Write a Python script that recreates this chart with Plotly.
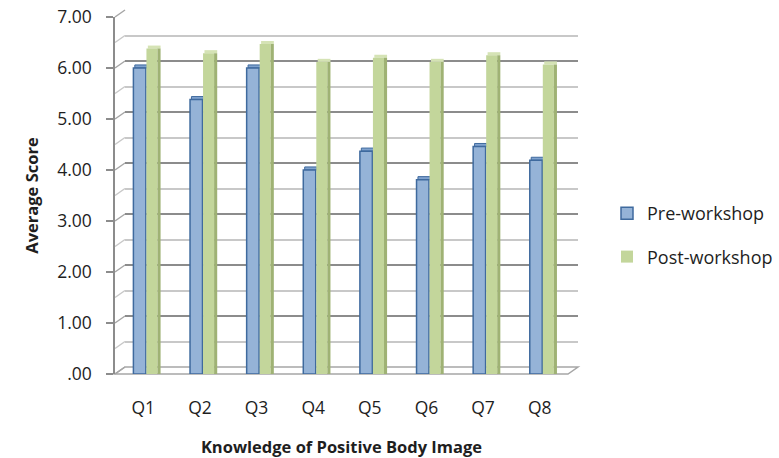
import plotly.graph_objects as go

# Survey data: average score per question, before and after the workshop
questions = ["Q1", "Q2", "Q3", "Q4", "Q5", "Q6", "Q7", "Q8"]
pre_workshop = [6.00, 5.38, 6.00, 4.00, 4.37, 3.81, 4.46, 4.19]
post_workshop = [6.38, 6.29, 6.47, 6.12, 6.20, 6.12, 6.25, 6.07]
y_tick_values = [0, 1, 2, 3, 4, 5, 6, 7]
y_tick_labels = [".00", "1.00", "2.00", "3.00", "4.00", "5.00", "6.00", "7.00"]

W, H = 779, 458
FONT = "Open Sans"
TEXT = "#1E1E1E"

# pixel layout of the pseudo-3D box
FRONT_L, FRONT_R = 115, 568      # front edge of the floor
FRONT_TOP, FRONT_BOT = 17, 374   # front value axis (7 .. 0)
DX, DY = 10, 7                   # depth offset of the back wall
BACK_L, BACK_R = FRONT_L + DX, FRONT_R + DX
BACK_TOP, BACK_BOT = FRONT_TOP - DY, FRONT_BOT - DY
CAP = 0.06                       # thickness of the column top caps (value units)


def fx(px):
    return px / W


def fy(py):
    return 1 - py / H


BLUE = "#95B3D7"
BLUE_EDGE = "#3F6A9E"
BLUE_CAP = "#7FA2CE"
GREEN = "#C3D69B"
GREEN_SIDE = "#9FB274"
GREEN_CAP = "#D5E3B5"

fig = go.Figure()

# back wall (gridlines only) lives on x/y
fig.add_trace(go.Scatter(x=[0], y=[0], xaxis="x", yaxis="y", mode="markers",
                         marker=dict(opacity=0), showlegend=False, hoverinfo="skip"))

# columns live on x2/y2 (front plane)
fig.add_trace(go.Bar(
    x=questions, y=[CAP] * len(pre_workshop), base=pre_workshop,
    xaxis="x2", yaxis="y2", name="Pre-workshop top",
    offset=-0.15, width=0.22, showlegend=False, hoverinfo="skip",
    marker=dict(color=BLUE_CAP, line=dict(color=BLUE_EDGE, width=1)),
))
fig.add_trace(go.Bar(
    x=questions, y=pre_workshop, xaxis="x2", yaxis="y2", name="Pre-workshop",
    offset=-0.175, width=0.22, legendgroup="pre",
    marker=dict(color=BLUE, line=dict(color=BLUE_EDGE, width=1.5)),
))
fig.add_trace(go.Bar(
    x=questions, y=[CAP] * len(post_workshop), base=post_workshop,
    xaxis="x2", yaxis="y2", name="Post-workshop top",
    offset=0.08, width=0.225, showlegend=False, hoverinfo="skip",
    marker=dict(color=GREEN_CAP, line=dict(width=0)),
))
fig.add_trace(go.Bar(
    x=questions, y=post_workshop, xaxis="x2", yaxis="y2", name="Post-workshop",
    offset=0.055, width=0.195, legendgroup="post",
    marker=dict(color=GREEN, line=dict(width=0)),
))
# shaded right-hand side of the green columns
fig.add_trace(go.Bar(
    x=questions, y=post_workshop, xaxis="x2", yaxis="y2", name="Post-workshop side",
    offset=0.25, width=0.055, showlegend=False, hoverinfo="skip",
    marker=dict(color=GREEN_SIDE, line=dict(width=0)),
))

shapes = []
# floor parallelogram
shapes.append(dict(
    type="path", xref="paper", yref="paper", layer="below",
    path=(f"M {fx(FRONT_L)} {fy(FRONT_BOT)} L {fx(FRONT_R)} {fy(FRONT_BOT)} "
          f"L {fx(BACK_R)} {fy(BACK_BOT)} L {fx(BACK_L)} {fy(BACK_BOT)} Z"),
    line=dict(color="#A6A6A6", width=1.5), fillcolor="rgba(0,0,0,0)",
))
# side wall connectors at every half unit
unit = (FRONT_BOT - FRONT_TOP) / 7
for k in range(15):
    v = k * 0.5
    yf = FRONT_BOT - v * unit
    yb = BACK_BOT - v * unit
    shapes.append(dict(
        type="line", xref="paper", yref="paper", layer="below",
        x0=fx(FRONT_L), y0=fy(yf), x1=fx(BACK_L), y1=fy(yb),
        line=dict(color="#A6A6A6" if k % 2 == 0 else "#C8C8C8", width=1.5),
    ))

fig.update_layout(
    width=W, height=H,
    margin=dict(l=0, r=0, t=0, b=0, autoexpand=False),
    paper_bgcolor="white",
    plot_bgcolor="rgba(0,0,0,0)",
    font=dict(family=FONT, color=TEXT, size=17),
    barmode="overlay",
    shapes=shapes,
    showlegend=True,
    legend=dict(
        x=fx(607), y=fy(195), xanchor="left", yanchor="top",
        font=dict(family=FONT, size=18, color=TEXT),
        tracegroupgap=17, bgcolor="rgba(0,0,0,0)",
    ),
    xaxis=dict(
        domain=[fx(BACK_L), fx(BACK_R)], range=[0, 1], anchor="y",
        showgrid=False, zeroline=False, showticklabels=False, showline=False,
        automargin=False,
    ),
    yaxis=dict(
        domain=[fy(BACK_BOT), fy(BACK_TOP)], range=[0, 7], anchor="x",
        dtick=1, showgrid=True, gridcolor="#8C8C8C", gridwidth=1.5,
        minor=dict(dtick=0.5, showgrid=True, gridcolor="#C8C8C8", gridwidth=1.5),
        zeroline=False, showticklabels=False, showline=False,
        automargin=False,
    ),
    xaxis2=dict(
        domain=[fx(FRONT_L), fx(FRONT_R)], anchor="y2",
        showgrid=False, zeroline=False, showline=False, ticks="",
        ticklabelstandoff=21, automargin=False,
        tickfont=dict(family=FONT, size=17.5, color=TEXT),
        title=dict(text="<b>Knowledge of Positive Body Image</b>",
                   font=dict(family=FONT, size=16.5, color=TEXT), standoff=23),
    ),
    yaxis2=dict(
        domain=[fy(FRONT_BOT), fy(FRONT_TOP)], range=[0, 7], anchor="x2",
        tickvals=y_tick_values, ticktext=y_tick_labels,
        showgrid=False, zeroline=False,
        showline=True, linecolor="#8C8C8C", linewidth=1.5,
        ticks="outside", ticklen=7, tickcolor="#8C8C8C", tickwidth=1.5,
        ticklabelstandoff=11, automargin=False,
        tickfont=dict(family=FONT, size=17.5, color=TEXT),
        title=dict(text="<b>Average Score</b>",
                   font=dict(family=FONT, size=16.5, color=TEXT), standoff=14),
    ),
)

fig.write_html("out.html")
